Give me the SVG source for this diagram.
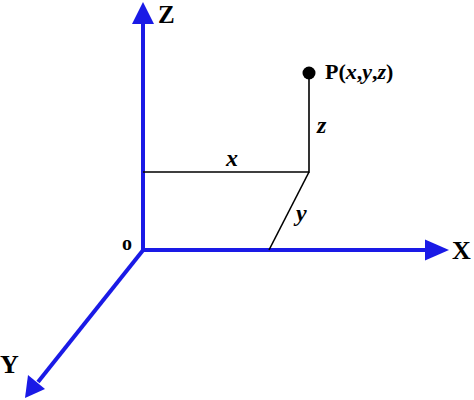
<svg xmlns="http://www.w3.org/2000/svg" width="474" height="400" viewBox="0 0 474 400">
<style>
.axis{stroke:#1a1ae6;stroke-width:4;fill:none}
.head{fill:#1a1ae6}
.thin{stroke:#000;stroke-width:1.6;fill:none}
text{font-family:"Liberation Serif","Times New Roman",serif;font-weight:bold;fill:#000}
.it{font-style:italic}
</style>
<rect width="474" height="400" fill="#fff"/>
<g id="connectors">
<line class="axis" x1="143" y1="252" x2="143" y2="20"/>
<line class="axis" x1="141" y1="250" x2="430" y2="250"/>
<line class="axis" x1="144" y1="249" x2="38" y2="382"/>
<polygon class="head" points="143,2 132,24 154,24"/>
<polygon class="head" points="449,250 425,239.5 425,260.5"/>
<polygon class="head" points="25,398 28,375 45,389"/>
<polyline class="thin" points="143,172 309,172 309,74"/>
<line class="thin" x1="309" y1="172" x2="269" y2="250"/>
</g>
<g id="labels">
<text x="158" y="23" font-size="25">Z</text>
<text x="452" y="259" font-size="26">X</text>
<text x="0" y="373" font-size="26">Y</text>
<text x="122" y="250" font-size="20">o</text>
<text x="226" y="166" font-size="24" class="it">x</text>
<text x="296" y="221" font-size="24" class="it">y</text>
<text x="317" y="133" font-size="24" class="it">z</text>
</g>
<g id="point">
<circle cx="309" cy="73" r="6.5" fill="#000"/>
<text x="325" y="79" font-size="22">P(<tspan class="it">x</tspan>,<tspan class="it">y</tspan>,<tspan class="it">z</tspan>)</text>
</g>
</svg>
